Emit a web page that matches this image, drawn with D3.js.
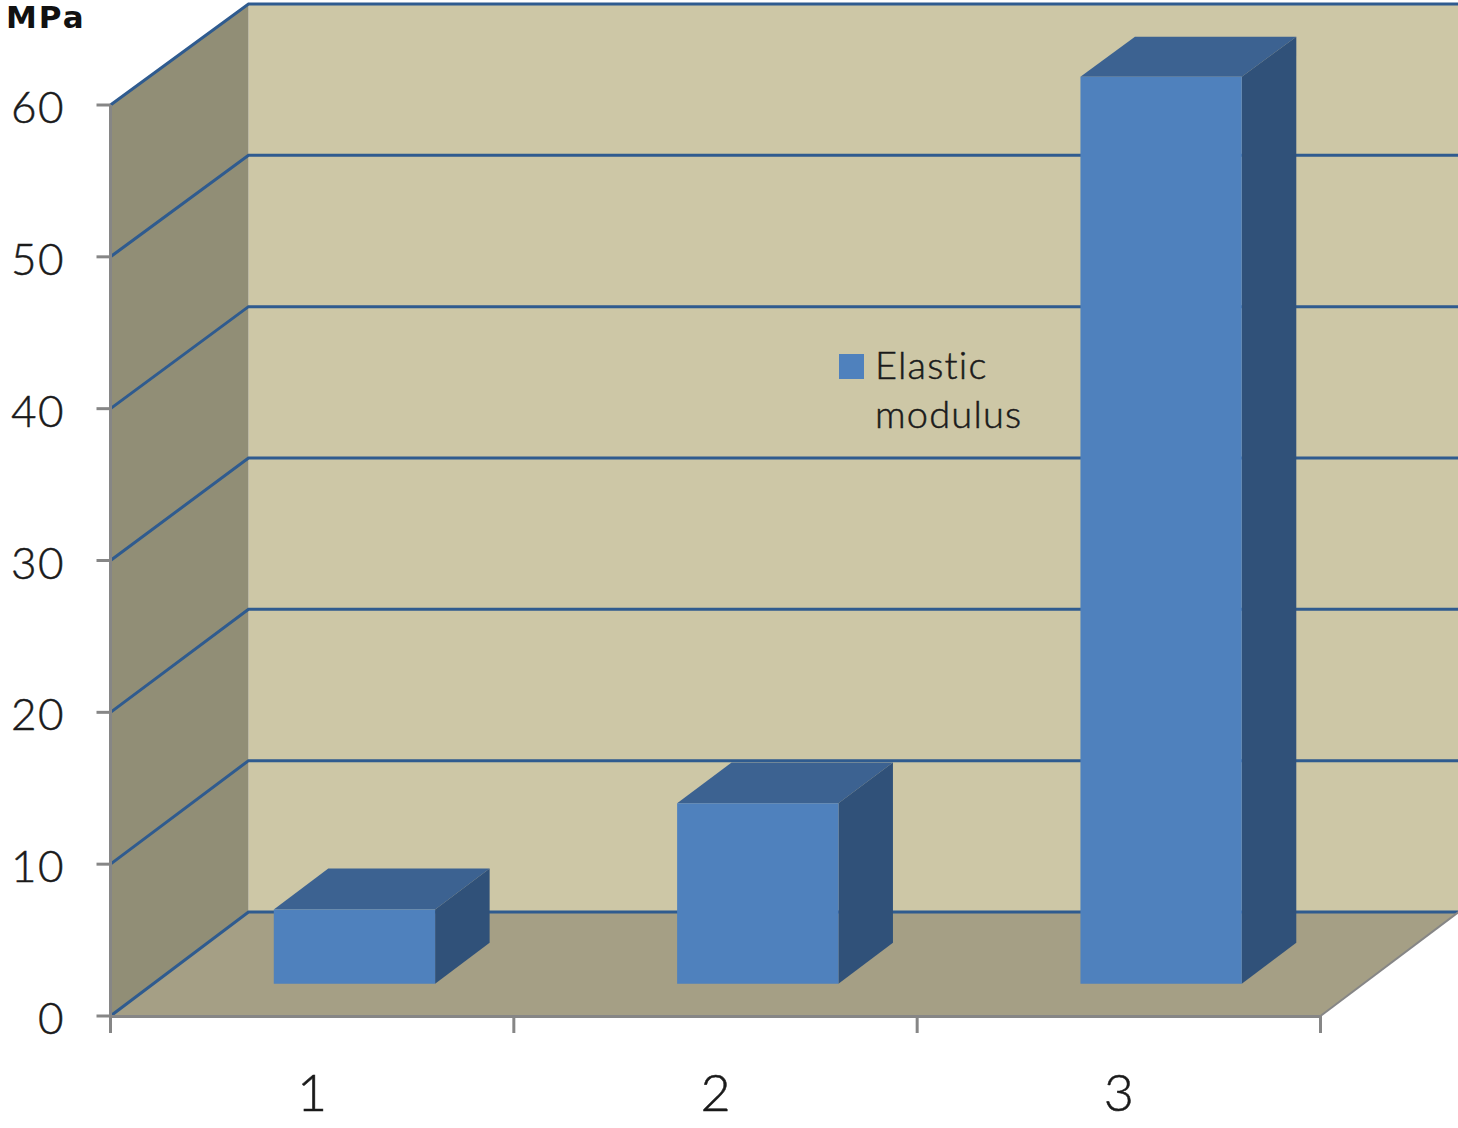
<!DOCTYPE html>
<html>
<head>
<meta charset="utf-8">
<script src="https://cdn.jsdelivr.net/npm/d3@7"></script>
<style>
  html, body { margin: 0; padding: 0; background: #fff; }
  svg { display: block; }
  text { font-family: Lato, "Open Sans", sans-serif; fill: #1a1a1a; font-variant-ligatures: none; }
  .thin { font-weight: 300; stroke: #1a1a1a; stroke-width: 0.5px; }
</style>
</head>
<body>
<svg id="chart" width="1458" height="1128"></svg>
<script>
const categories = ["1", "2", "3"];
const modulusValues = [4.9, 11.9, 59.8];
const valueTicks = [0, 10, 20, 30, 40, 50, 60];
const unitLabel = "MPa";
const legendLines = ["Elastic", "modulus"];

const svg = d3.select("#chart");

// Front plane of the 3D box
const x = d3.scaleBand().domain(categories).range([110.5, 1320.5]).paddingInner(0.6).paddingOuter(0.3);
const xEdge = d3.scaleLinear().domain([0, categories.length]).range([110.5, 1320.5]);
const y = d3.scaleLinear().domain([0, 60]).range([1016, 105]);
// Back wall of the box
const yBack = d3.scaleLinear().domain([0, 60]).range([912, 4]);
const depthX = 138;

// Oblique projection: depth 0 is the front plane, depth 1 the back wall
const project = (px, v, d) => [px + d * depthX, y(v) + d * (yBack(v) - y(v))];
const poly = pts => pts.map(p => p.join(",")).join(" ");

const colors = {
  wall: "#cdc7a6", side: "#918e76", floor: "#a59f85",
  grid: "#2f5b8f", axis: "#868686",
  front: "#4f81bd", top: "#3c6291", right: "#305179"
};

// Back wall, side wall, floor
const x0 = xEdge(0), x1 = xEdge(categories.length);
svg.append("polygon").attr("fill", colors.wall)
  .attr("points", poly([project(x0, 60, 1), project(x1, 60, 1), project(x1, 0, 1), project(x0, 0, 1)]));
svg.append("polygon").attr("fill", colors.side)
  .attr("points", poly([project(x0, 60, 0), project(x0, 60, 1), project(x0, 0, 1), project(x0, 0, 0)]));
svg.append("polygon").attr("fill", colors.floor)
  .attr("points", poly([project(x0, 0, 0), project(x0, 0, 1), project(x1, 0, 1), project(x1, 0, 0)]));

// Gridlines run along the side wall and across the back wall
svg.append("g").selectAll("polyline").data(valueTicks).join("polyline")
  .attr("fill", "none").attr("stroke", colors.grid).attr("stroke-width", 3)
  .attr("points", v => poly([project(x0, v, 0), project(x0, v, 1), project(x1, v, 1)]));

// Axis lines and tick marks
const axes = svg.append("g").attr("stroke", colors.axis).attr("stroke-width", 3).attr("fill", "none");
axes.append("line").attr("x1", x0).attr("x2", x0).attr("y1", y(60)).attr("y2", y(0));
axes.append("line").attr("x1", x0).attr("x2", x1).attr("y1", y(0) + 0.5).attr("y2", y(0) + 0.5);
axes.append("line").attr("x1", x1).attr("y1", y(0)).attr("stroke-width", 2)
  .attr("x2", project(x1, 0, 1)[0]).attr("y2", project(x1, 0, 1)[1]);
axes.selectAll(".ytick").data(valueTicks).join("line").attr("class", "ytick")
  .attr("x1", x0 - 14).attr("x2", x0).attr("y1", d => y(d)).attr("y2", d => y(d));
axes.selectAll(".xtick").data(d3.range(categories.length + 1)).join("line").attr("class", "xtick")
  .attr("x1", d => xEdge(d)).attr("x2", d => xEdge(d)).attr("y1", y(0)).attr("y2", y(0) + 17);

// Bars: each one sits between two depths inside the box
const nearDepth = 0.31, farDepth = 0.705;
const bars = svg.append("g").selectAll("g").data(categories.map((c, i) => ({ c, v: modulusValues[i] }))).join("g");
const corner = (d, side, v, depth) => project(x(d.c) + (side ? x.bandwidth() : 0) - 0.5, v, depth);
bars.append("polygon").attr("fill", colors.top)
  .attr("points", d => poly([corner(d, 0, d.v, nearDepth), corner(d, 0, d.v, farDepth), corner(d, 1, d.v, farDepth), corner(d, 1, d.v, nearDepth)]));
bars.append("polygon").attr("fill", colors.right)
  .attr("points", d => poly([corner(d, 1, d.v, nearDepth), corner(d, 1, d.v, farDepth), corner(d, 1, 0, farDepth), corner(d, 1, 0, nearDepth)]));
bars.append("polygon").attr("fill", colors.front)
  .attr("points", d => poly([corner(d, 0, d.v, nearDepth), corner(d, 1, d.v, nearDepth), corner(d, 1, 0, nearDepth), corner(d, 0, 0, nearDepth)]));

// Tick labels
svg.append("g").selectAll("text").data(valueTicks).join("text").attr("class", "thin")
  .attr("x", 65).attr("y", d => y(d) + 18).attr("text-anchor", "end")
  .attr("font-size", 44).attr("letter-spacing", 1.5).text(d => d);
svg.append("g").selectAll("text").data(categories).join("text").attr("class", "thin")
  .attr("x", d => x(d) + x.bandwidth() / 2).attr("y", 1111).attr("text-anchor", "middle")
  .attr("font-size", 52).text(d => d);

// Unit label
svg.append("text").attr("x", 6).attr("y", 28).attr("font-size", 31).attr("font-weight", 700)
  .attr("letter-spacing", 2).style("font-family", "'DejaVu Sans', sans-serif").style("fill", "#111").text(unitLabel);

// Legend
svg.append("rect").attr("x", 839).attr("y", 354).attr("width", 25).attr("height", 25).attr("fill", colors.front);
svg.append("g").selectAll("text").data(legendLines).join("text").attr("class", "thin")
  .attr("x", 875).attr("y", (d, i) => 379 + i * 49).attr("font-size", 38)
  .attr("letter-spacing", 1.2).text(d => d);
</script>
</body>
</html>
